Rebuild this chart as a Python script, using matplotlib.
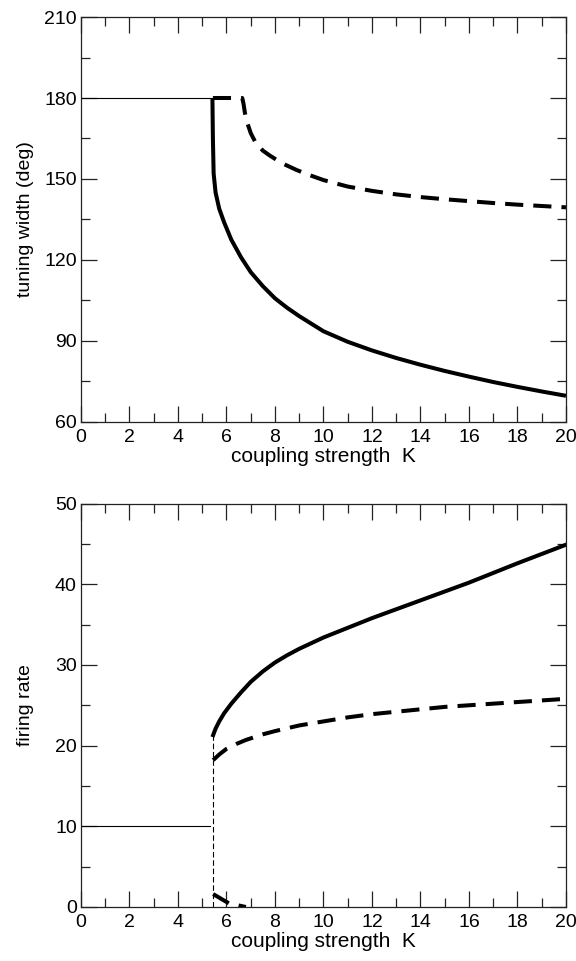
import matplotlib
matplotlib.use("Agg")
import matplotlib.pyplot as plt
from matplotlib.ticker import MultipleLocator

plt.rcParams['font.family'] = ['Liberation Sans', 'DejaVu Sans']

# ---- top panel data: tuning width (deg) ----
top_flat_k = [0.0, 5.42]
top_flat_w = [180, 180]

top_solid_k = [5.42, 5.44, 5.47, 5.55, 5.7, 5.9, 6.2, 6.6, 7.0, 7.5, 8.0, 8.5, 9.0,
               10, 11, 12, 13, 14, 15, 16, 17, 18, 19, 20]
top_solid_w = [180, 165, 152, 145, 139, 134, 127.5, 121, 115.5, 110.3, 105.8, 102.3, 99.2,
               93.6, 89.7, 86.5, 83.7, 81.2, 78.9, 76.8, 74.8, 73.0, 71.3, 69.7]

top_dash_k = [5.44, 6.65, 6.7, 6.76, 6.85, 7.0, 7.2, 7.5, 7.8, 8.3, 8.9, 9.5,
              10, 11, 12, 13, 14, 15, 16, 17, 18, 19, 20]
top_dash_w = [180, 180, 178, 174.5, 171, 167, 163.5, 160.5, 158.6, 155.8, 153.3, 151.2,
              149.6, 147.2, 145.6, 144.3, 143.3, 142.5, 141.8, 141.1, 140.5, 140.0, 139.5]

# ---- bottom panel data: firing rate ----
bot_flat_k = [0.0, 5.3]
bot_flat_r = [10, 10]

bot_vert_k = [5.45, 5.45]
bot_vert_r = [0, 21.3]

bot_solid_k = [5.45, 5.55, 5.7, 5.9, 6.2, 6.6, 7.0, 7.5, 8.0, 8.5, 9.0,
               10, 11, 12, 13, 14, 15, 16, 17, 18, 19, 20]
bot_solid_r = [21.3, 22.1, 23.0, 24.0, 25.2, 26.6, 27.9, 29.2, 30.3, 31.2, 32.0,
               33.4, 34.6, 35.8, 36.9, 38.0, 39.1, 40.2, 41.4, 42.6, 43.75, 44.9]

bot_dash_hi_k = [5.45, 5.7, 6.0, 6.4, 6.8, 7.5, 8.0, 9, 10, 11, 12, 13, 14, 15, 16, 17, 18, 19, 20]
bot_dash_hi_r = [18.2, 18.9, 19.6, 20.2, 20.7, 21.4, 21.8, 22.5, 23.0, 23.5, 23.9, 24.2,
                 24.5, 24.8, 25.0, 25.2, 25.4, 25.6, 25.8]

bot_dash_lo_k = [5.45, 6.1, 6.8]
bot_dash_lo_r = [1.6, 0.45, 0.0]

fig = plt.figure(figsize=(5.76, 9.61), dpi=100)
ax1 = fig.add_axes([0.1406, 0.5609, 0.8420, 0.4214])
ax2 = fig.add_axes([0.1406, 0.0562, 0.8420, 0.4198])

THICK = 2.9
THIN = 0.8
DASH = (4.5, 2.5)

ax1.plot(top_flat_k, top_flat_w, color='black', lw=THIN)
ax1.plot(top_solid_k, top_solid_w, color='black', lw=THICK, solid_capstyle='butt')
l, = ax1.plot(top_dash_k, top_dash_w, color='black', lw=THICK)
l.set_dashes(DASH)

ax2.plot(bot_flat_k, bot_flat_r, color='black', lw=THIN)
lv, = ax2.plot(bot_vert_k, bot_vert_r, color='black', lw=THIN)
lv.set_dashes((5, 2.5))
ax2.plot(bot_solid_k, bot_solid_r, color='black', lw=THICK)
l2, = ax2.plot(bot_dash_hi_k, bot_dash_hi_r, color='black', lw=THICK)
l2.set_dashes(DASH)
l3, = ax2.plot(bot_dash_lo_k, bot_dash_lo_r, color='black', lw=THICK)
l3.set_dashes(DASH)

ax1.set_xlim(0, 20)
ax1.set_ylim(60, 210)
ax1.yaxis.set_major_locator(MultipleLocator(30))
ax1.yaxis.set_minor_locator(MultipleLocator(15))
ax1.set_ylabel('tuning width (deg)', fontsize=14)

ax2.set_xlim(0, 20)
ax2.set_ylim(0, 50)
ax2.yaxis.set_major_locator(MultipleLocator(10))
ax2.yaxis.set_minor_locator(MultipleLocator(5))
ax2.set_ylabel('firing rate', fontsize=14)

for ax in (ax1, ax2):
    ax.xaxis.set_major_locator(MultipleLocator(2))
    ax.xaxis.set_minor_locator(MultipleLocator(1))
    ax.set_xlabel('coupling strength  K', fontsize=15, labelpad=1)
    ax.yaxis.set_label_coords(-0.097, 0.5)
    ax.tick_params(which='both', direction='in', top=True, right=True,
                   labelsize=14, width=0.9, color='#222222')
    ax.tick_params(axis='x', pad=5)
    ax.tick_params(axis='y', pad=3)
    ax.tick_params(which='major', length=11.5)
    ax.tick_params(which='minor', length=6.5)
    for s in ax.spines.values():
        s.set_linewidth(0.9)
        s.set_color('#222222')

fig.savefig('out.png', dpi=100)
